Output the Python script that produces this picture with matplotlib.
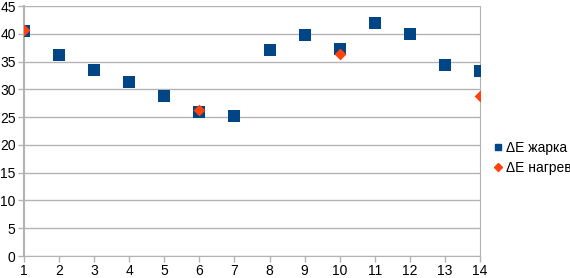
import matplotlib
matplotlib.use("Agg")
import matplotlib.pyplot as plt
from matplotlib.lines import Line2D

plt.rcParams['font.family'] = ['Liberation Sans', 'DejaVu Sans']

x_zharka = list(range(1, 15))
y_zharka = [40.5, 36.2, 33.5, 31.3, 28.8, 25.9, 25.2, 37.1, 39.8, 37.3, 41.9, 40.0, 34.4, 33.3]
x_nagrev = [1, 6, 10, 14]
y_nagrev = [40.6, 26.2, 36.4, 28.8]
labels = ["ΔE жарка", "ΔE нагрев"]

fig = plt.figure(figsize=(5.7, 2.78), dpi=100)
ax = fig.add_axes([24/570, 1-256/278, 456/570, 250/278])

grid_c = '#b3b3b3'
ax.scatter(x_zharka, y_zharka, marker='s', s=75, color='#004586', zorder=3, linewidths=0)
ax.scatter(x_nagrev, y_nagrev, marker='D', s=36, color='#ff420e', zorder=4, linewidths=0)

ax.set_xlim(1, 14)
ax.set_ylim(0, 45)
ax.set_xticks(range(1, 15))
ax.set_yticks(range(0, 46, 5))
ax.yaxis.grid(True, color=grid_c, linewidth=1)
ax.set_axisbelow(True)
ax.spines['top'].set_visible(False)
ax.spines['left'].set_color('#b3b3b3')
ax.spines['left'].set_linewidth(1.5)
ax.spines['bottom'].set_color(grid_c)
ax.spines['right'].set_color(grid_c)
ax.tick_params(axis='both', colors=grid_c, labelcolor='#000000', labelsize=10, length=4, width=1)
ax.tick_params(axis='y', pad=2)
ax.tick_params(axis='x', pad=2)
for sp in ax.spines.values():
    sp.set_clip_on(False)

handles = [Line2D([], [], marker='s', linestyle='', color='#004586', markersize=5),
           Line2D([], [], marker='D', linestyle='', color='#ff420e', markersize=4.5)]
fig.legend(handles, labels, loc='upper left', bbox_to_anchor=(495/570, 1-141/278),
           frameon=False, fontsize=10, handlelength=0.5, handletextpad=0.3, labelspacing=0.45,
           borderaxespad=0, borderpad=0)

fig.savefig('out.png', dpi=100)
